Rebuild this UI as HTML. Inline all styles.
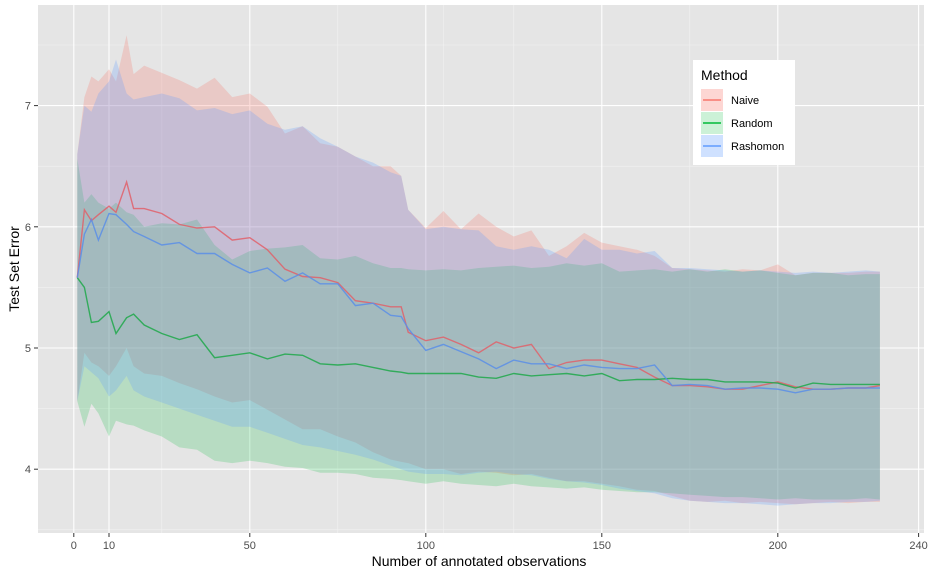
<!DOCTYPE html>
<html><head><meta charset="utf-8"><style>
html,body{margin:0;padding:0;background:#fff;}
svg{display:block;font-family:"Liberation Sans",Arial,sans-serif;}
</style></head><body>
<svg id="chart" width="928" height="576" viewBox="0 0 928 576">
<rect x="38" y="5" width="886" height="528" fill="#E5E5E5"/>
<g id="grid"></g>
<g id="bands"></g>
<g id="lines"></g>
<g id="axes"></g>
<text x="479" y="566" text-anchor="middle" font-size="14" fill="#000">Number of annotated observations</text>
<text transform="translate(19,269) rotate(-90)" text-anchor="middle" font-size="14" fill="#000">Test Set Error</text>
<g>
<rect x="693" y="60" width="102" height="105" fill="#fff"/>
<text x="701" y="80" font-size="14" fill="#000">Method</text>
<g>
<rect x="701" y="89" width="22" height="22" fill="#F8766D" fill-opacity="0.3"/>
<line x1="703" x2="721" y1="100" y2="100" stroke="#F8766D" stroke-width="1.5"/>
<text x="731" y="104" font-size="11" fill="#000">Naive</text></g>
<g>
<rect x="701" y="112" width="22" height="22" fill="#00BA38" fill-opacity="0.2"/>
<line x1="703" x2="721" y1="123" y2="123" stroke="#00BA38" stroke-width="1.5"/>
<text x="731" y="127" font-size="11" fill="#000">Random</text></g>
<g>
<rect x="701" y="135" width="22" height="22" fill="#619CFF" fill-opacity="0.3"/>
<line x1="703" x2="721" y1="146" y2="146" stroke="#619CFF" stroke-width="1.5"/>
<text x="731" y="150" font-size="11" fill="#000">Rashomon</text></g>
</g>
</svg>
<script>
const xs=[1,3,5,7,10,12,15,17,20,25,30,35,40,45,50,55,60,65,70,75,80,85,90,93,95,100,105,110,115,120,125,130,135,140,145,150,155,160,165,170,175,180,185,190,195,200,205,210,215,220,225,229];
const naive=[5.58,6.14,6.05,6.1,6.17,6.12,6.37,6.15,6.15,6.11,6.02,5.99,6.0,5.89,5.91,5.81,5.65,5.59,5.58,5.54,5.39,5.37,5.34,5.34,5.13,5.06,5.09,5.03,4.96,5.05,5.0,5.03,4.83,4.88,4.9,4.9,4.87,4.84,4.76,4.69,4.69,4.68,4.66,4.66,4.69,4.72,4.68,4.66,4.66,4.67,4.67,4.69];
const rashomon=[5.58,5.94,6.06,5.89,6.11,6.1,6.02,5.96,5.92,5.85,5.87,5.78,5.78,5.69,5.62,5.66,5.55,5.62,5.53,5.53,5.35,5.37,5.27,5.26,5.16,4.98,5.03,4.97,4.91,4.83,4.9,4.87,4.87,4.83,4.86,4.84,4.83,4.83,4.86,4.69,4.7,4.69,4.66,4.67,4.67,4.66,4.63,4.66,4.66,4.67,4.67,4.67];
const random=[5.58,5.5,5.21,5.22,5.3,5.12,5.25,5.28,5.19,5.12,5.07,5.11,4.92,4.94,4.96,4.91,4.95,4.94,4.87,4.86,4.87,4.84,4.81,4.8,4.79,4.79,4.79,4.79,4.76,4.75,4.79,4.77,4.78,4.79,4.77,4.79,4.73,4.74,4.74,4.75,4.74,4.74,4.72,4.72,4.72,4.71,4.67,4.71,4.7,4.7,4.7,4.7];
const naiveHi=[6.6,7.07,7.24,7.2,7.3,7.2,7.58,7.26,7.33,7.27,7.21,7.14,7.23,7.07,7.1,6.99,6.77,6.83,6.69,6.66,6.58,6.5,6.5,6.42,6.14,5.99,6.13,5.98,6.11,6.0,5.92,5.97,5.76,5.84,5.95,5.87,5.84,5.81,5.76,5.66,5.65,5.64,5.63,5.65,5.64,5.69,5.6,5.62,5.62,5.62,5.63,5.63];
const naiveLo=[4.56,4.96,4.88,4.85,4.77,4.85,5.0,4.85,4.79,4.77,4.71,4.66,4.6,4.55,4.57,4.49,4.41,4.33,4.33,4.27,4.22,4.14,4.08,4.06,4.05,4.0,4.0,3.96,3.98,3.97,3.95,3.96,3.93,3.9,3.9,3.88,3.86,3.83,3.82,3.78,3.74,3.73,3.74,3.72,3.73,3.72,3.71,3.72,3.73,3.72,3.73,3.73];
const rashHi=[6.6,7.0,6.95,7.1,7.2,7.38,7.1,7.05,7.07,7.1,7.06,6.96,6.98,6.93,6.96,6.85,6.8,6.83,6.73,6.66,6.58,6.53,6.45,6.42,6.14,5.98,6.0,5.98,5.97,5.84,5.81,5.84,5.81,5.74,5.9,5.81,5.81,5.78,5.8,5.66,5.66,5.65,5.64,5.63,5.64,5.63,5.62,5.63,5.62,5.63,5.64,5.63];
const rashLo=[4.56,4.85,4.8,4.75,4.6,4.65,4.77,4.65,4.6,4.55,4.5,4.45,4.4,4.35,4.35,4.3,4.25,4.2,4.18,4.15,4.12,4.08,4.03,4.0,3.98,3.96,3.96,3.95,3.97,3.98,3.96,3.95,3.92,3.9,3.89,3.87,3.84,3.82,3.8,3.76,3.74,3.73,3.72,3.72,3.71,3.7,3.71,3.72,3.72,3.73,3.73,3.74];
const randHi=[6.56,6.2,6.27,6.2,6.15,6.2,6.12,6.1,6.0,6.03,6.02,6.06,5.85,5.73,5.8,5.82,5.83,5.85,5.74,5.73,5.76,5.7,5.66,5.66,5.65,5.64,5.65,5.64,5.66,5.67,5.68,5.66,5.67,5.7,5.68,5.7,5.63,5.64,5.65,5.63,5.65,5.63,5.65,5.63,5.64,5.62,5.6,5.62,5.62,5.6,5.61,5.61];
const randLo=[4.56,4.35,4.54,4.46,4.27,4.4,4.37,4.36,4.32,4.27,4.18,4.16,4.07,4.05,4.07,4.05,4.02,4.01,3.97,3.97,3.96,3.93,3.92,3.91,3.9,3.88,3.9,3.88,3.87,3.86,3.88,3.86,3.85,3.84,3.85,3.83,3.82,3.81,3.81,3.8,3.79,3.78,3.77,3.77,3.76,3.75,3.76,3.75,3.75,3.75,3.76,3.75];
const xTicks=[0,10,50,100,150,200,240];
const xMinor=[25,75,105,125,175];
const yTicks=[4,5,6,7];
const yMinor=[3.5,4.5,5.5,6.5,7.5];

const NS="http://www.w3.org/2000/svg";
function X(v){return 73.8+v*3.52;}
function Y(v){return 348-(v-5)*121.2;}
function mk(tag,attrs,parent){const e=document.createElementNS(NS,tag);for(const k in attrs)e.setAttribute(k,attrs[k]);parent.appendChild(e);return e;}
const grid=document.getElementById('grid'),bands=document.getElementById('bands'),lines=document.getElementById('lines'),axes=document.getElementById('axes');
xMinor.forEach(v=>{const l=mk('line',{x1:X(v),x2:X(v),y1:5,y2:533,stroke:'#F2F2F2','stroke-width':0.6},grid);

});
yMinor.forEach(v=>{const l=mk('line',{x1:38,x2:924,y1:Y(v),y2:Y(v),stroke:'#F2F2F2','stroke-width':0.6},grid);

});
xTicks.forEach(v=>{const l=mk('line',{x1:X(v),x2:X(v),y1:5,y2:533,stroke:'#fff','stroke-width':1.1},grid);


const t=mk('line',{x1:X(v),x2:X(v),y1:533,y2:537,stroke:'#333','stroke-width':1},axes);


const tx=mk('text',{x:X(v),y:549,'text-anchor':'middle','font-size':11,fill:'#4D4D4D'},axes);tx.textContent=v;

});
yTicks.forEach(v=>{const l=mk('line',{x1:38,x2:924,y1:Y(v),y2:Y(v),stroke:'#fff','stroke-width':1.1},grid);


const t=mk('line',{x1:34,x2:38,y1:Y(v),y2:Y(v),stroke:'#333','stroke-width':1},axes);


const tx=mk('text',{x:31,y:Y(v)+4,'text-anchor':'end','font-size':11,fill:'#4D4D4D'},axes);tx.textContent=v;

});
function band(hi,lo,col,op,name){let d='';xs.forEach((x,i)=>{d+=(i?'L':'M')+X(x).toFixed(1)+','+Y(hi[i]).toFixed(1);});
for(let i=xs.length-1;i>=0;i--)d+='L'+X(xs[i]).toFixed(1)+','+Y(lo[i]).toFixed(1);d+='Z';
const p=mk('path',{d:d,fill:col,'fill-opacity':op},bands);

}
band(naiveHi,naiveLo,'#F8766D',0.25,'naive-ribbon');
band(randHi,randLo,'#00BA38',0.2,'random-ribbon');
band(rashHi,rashLo,'#619CFF',0.25,'rashomon-ribbon');
function line(vals,col,name){let d='';xs.forEach((x,i)=>{d+=(i?'L':'M')+X(x).toFixed(1)+','+Y(vals[i]).toFixed(1);});
const p=mk('path',{d:d,fill:'none',stroke:col,'stroke-width':1.4,'stroke-opacity':0.85},lines);

}
line(naive,'#E0606A','naive-line');
line(random,'#1FA84A','random-line');
line(rashomon,'#5A8EE8','rashomon-line');
</script>
</body></html>
